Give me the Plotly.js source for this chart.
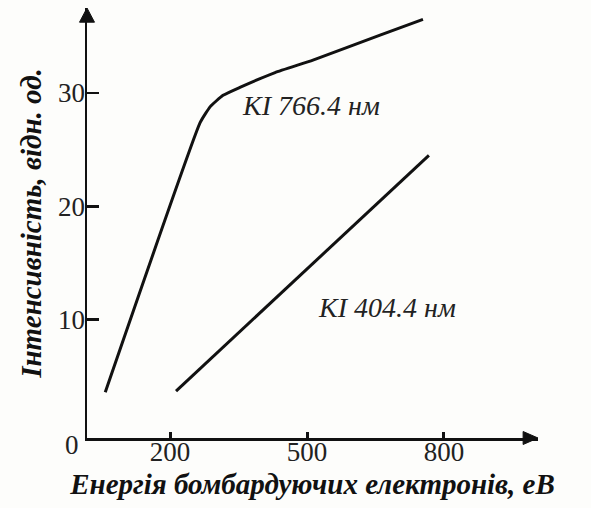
<!DOCTYPE html>
<html>
<head>
<meta charset="utf-8">
<script src="https://cdn.plot.ly/plotly-3.0.1.min.js"></script>
<style>
  html, body { margin: 0; padding: 0; background: #fdfdfb; }
  #chart { width: 591px; height: 508px; }
</style>
</head>
<body>
<div id="chart"></div>
<script>
// Data
const energy766 = [58, 266, 288, 316, 353, 430, 513, 660, 754];
const intensity766 = [3.6, 27.4, 28.8, 29.8, 30.5, 31.8, 32.9, 35.1, 36.5];
const energy404 = [213, 767];
const intensity404 = [3.7, 24.5];
const xTickVals = [200, 500, 800];
const yTickVals = [10, 20, 30];
const label766 = "KI 766.4 нм";
const label404 = "KI 404.4 нм";
const xTitle = "Енергія бомбардуючих електронів, еВ";
const yTitle = "Інтенсивність, відн. од.";

const serif = "'Liberation Serif', 'Times New Roman', serif";
const ink = "#111111";

const traces = [
  {
    x: energy766, y: intensity766, type: "scatter", mode: "lines",
    line: { color: ink, width: 3, shape: "spline", smoothing: 0.4 },
    name: label766, hoverinfo: "skip"
  },
  {
    x: energy404, y: intensity404, type: "scatter", mode: "lines",
    line: { color: ink, width: 3 },
    name: label404, hoverinfo: "skip"
  }
];

const layout = {
  width: 591, height: 508,
  margin: { l: 87, r: 53, t: 8, b: 70 },
  paper_bgcolor: "#fdfdfb",
  plot_bgcolor: "#fdfdfb",
  showlegend: false,
  font: { family: serif, color: ink },
  xaxis: {
    range: [18, 1006],
    tickvals: xTickVals,
    ticktext: xTickVals.map(String),
    ticks: "inside", ticklen: 6, tickwidth: 3, tickcolor: ink,
    ticklabelstandoff: -12,
    showline: true, linecolor: ink, linewidth: 2.5,
    showgrid: false, zeroline: false,
    tickfont: { family: serif, size: 27, color: "#222" },
    title: { text: "<b><i>" + xTitle + "</i></b>", font: { family: serif, size: 29, color: ink }, standoff: 8 }
  },
  yaxis: {
    range: [-0.44, 37.5],
    tickvals: yTickVals,
    ticktext: yTickVals.map(String),
    ticks: "inside", ticklen: 12, tickwidth: 2.5, tickcolor: ink,
    ticklabelstandoff: -6,
    showline: true, linecolor: ink, linewidth: 2.5,
    showgrid: false, zeroline: false,
    tickfont: { family: serif, size: 27, color: "#222" },
    title: { text: "<b><i>" + yTitle + "</i></b>", font: { family: serif, size: 29, color: ink }, standoff: 8 }
  },
  shapes: [
    // arrow head on y axis
    { type: "path", xref: "paper", yref: "paper",
      path: "M -0.0166 0.967 L 0 1 L 0.0166 0.967 Z",
      fillcolor: ink, line: { color: ink, width: 1 } },
    // arrow head on x axis
    { type: "path", xref: "paper", yref: "paper",
      path: "M 0.967 0.0151 L 1 0 L 0.967 -0.0151 Z",
      fillcolor: ink, line: { color: ink, width: 1 } }
  ],
  annotations: [
    { x: 509, y: 28.9, xref: "x", yref: "y", text: "<i>" + label766 + "</i>",
      showarrow: false, font: { family: serif, size: 28, color: "#222" } },
    { x: 675, y: 11.1, xref: "x", yref: "y", text: "<i>" + label404 + "</i>",
      showarrow: false, font: { family: serif, size: 28, color: "#222" } },
    { x: -0.033, y: -0.016, xref: "paper", yref: "paper", text: "0",
      xanchor: "center", yanchor: "middle",
      showarrow: false, font: { family: serif, size: 27, color: "#222" } }
  ]
};

Plotly.newPlot("chart", traces, layout, { displayModeBar: false, staticPlot: true });
</script>
</body>
</html>
